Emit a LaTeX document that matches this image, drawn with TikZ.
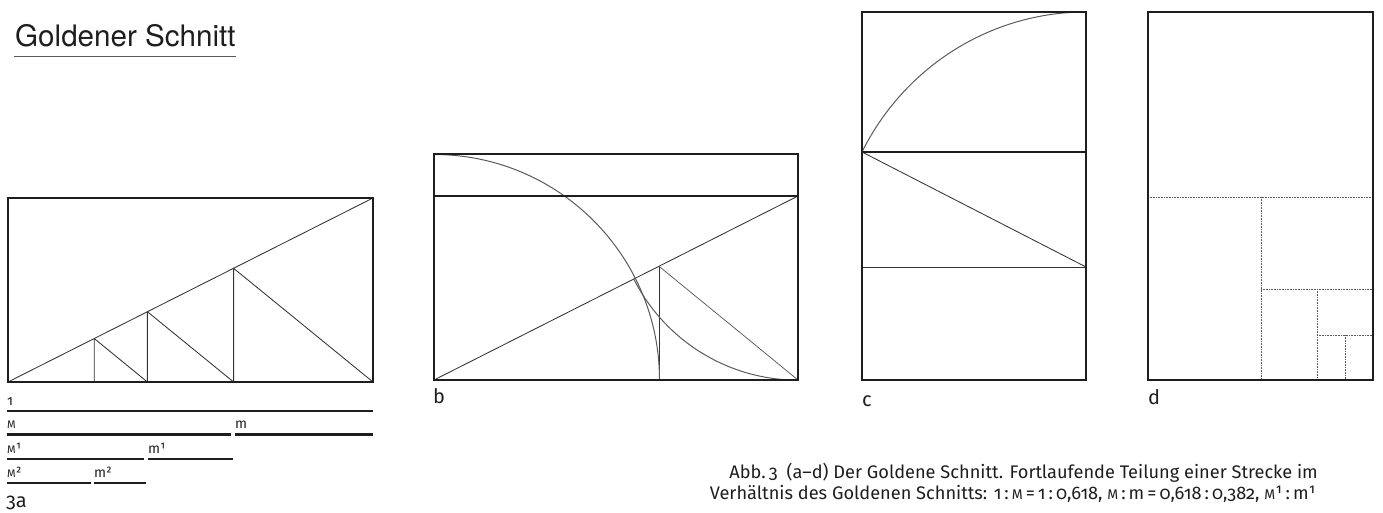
\documentclass[tikz,border=0pt]{standalone}
\usepackage{fontspec}
\setmainfont{Fira Sans}[Numbers=OldStyle]
\newfontfamily\titlefont{TeX Gyre Heros}
\definecolor{ink}{HTML}{1E1E1E}
\definecolor{inner}{HTML}{333333}
\definecolor{soft}{HTML}{5A5A5A}
\newcommand\smM[1]{{\fontsize{#1}{#1}\selectfont M}}
\begin{document}
\begin{tikzpicture}[x=1pt,y=-1pt,line join=miter,
  frame/.style={draw=ink,line width=2pt},
  midline/.style={draw=ink,line width=1.5pt},
  thinline/.style={draw=inner,line width=0.85pt},
  softline/.style={draw=soft,line width=0.75pt},
  arcline/.style={draw=soft,line width=1pt},
  dotline/.style={draw=soft,line width=0.7pt,dash pattern=on 0.7pt off 0.9pt},
  seg/.style={draw=ink,line width=2.9pt},
  lbl/.style={inner sep=0pt,anchor=base west,text=ink,font=\fontsize{14}{14}\selectfont},
  figlabel/.style={inner sep=0pt,anchor=base west,text=ink,font=\fontsize{20}{20}\selectfont},
  captext/.style={inner sep=0pt,anchor=base east,text=ink,font=\fontsize{18.2}{18.2}\selectfont}]
\useasboundingbox (0,0) rectangle (1383,513);
% title
\node[inner sep=0pt,anchor=base west,text=ink,font=\titlefont\fontsize{29.6}{29.6}\selectfont] (title) at (15,47) {Goldener Schnitt};
\coordinate (ul1) at (14,57);
\coordinate (ul2) at (236,57);
\draw[soft,line width=1pt] (ul1) -- (ul2);
% ---------- a ----------
\coordinate (aBL) at (8,382);
\coordinate (aBR) at (373,382);
\coordinate (aTR) at (373,198);
\coordinate (aTL) at (8,198);
\coordinate (aP1) at (233.6,268.3);
\coordinate (aP1b) at (233.6,382);
\coordinate (aP2) at (147.4,311.7);
\coordinate (aP2b) at (147.4,382);
\coordinate (aP3) at (94.2,338.5);
\coordinate (aP3b) at (94.2,382);
\draw[thinline] (aBL) -- (aTR);
\draw[thinline] (aP1) -- (aP1b) (aP1) -- (aBR);
\draw[thinline] (aP2) -- (aP2b) (aP2) -- (aP1b);
\draw[thinline] (aP3) -- (aP3b) (aP3) -- (aP2b);
\draw[frame] (aTL) rectangle (aBR);
% segments
\node[lbl] (l1) at (7,405) {1};
\coordinate (s1a) at (7,411); \coordinate (s1b) at (373,411);
\draw[seg] (s1a) -- (s1b);
\node[lbl] (lM) at (7,428.5) {\smM{11}};
\node[lbl] (lm) at (235,428.5) {m};
\coordinate (s2a) at (7,434.5); \coordinate (s2b) at (231,434.5);
\coordinate (s2c) at (235,434.5); \coordinate (s2d) at (373,434.5);
\draw[seg] (s2a) -- (s2b) (s2c) -- (s2d);
\node[lbl] (lM1) at (7,453) {\smM{11}¹};
\node[lbl] (lm1) at (148,453) {m¹};
\coordinate (s3a) at (7,459); \coordinate (s3b) at (144,459);
\coordinate (s3c) at (148,459); \coordinate (s3d) at (233,459);
\draw[seg] (s3a) -- (s3b) (s3c) -- (s3d);
\node[lbl] (lM2) at (7,477) {\smM{11}²};
\node[lbl] (lm2) at (94,477) {m²};
\coordinate (s4a) at (7,483); \coordinate (s4b) at (91,483);
\coordinate (s4c) at (94,483); \coordinate (s4d) at (146,483);
\draw[seg] (s4a) -- (s4b) (s4c) -- (s4d);
\node[figlabel] (la) at (6,507) {3a};
% ---------- b ----------
\coordinate (bTL) at (434,154);
\coordinate (bBR) at (798,380);
\coordinate (bBL) at (434,380);
\coordinate (bML) at (434,196);
\coordinate (bMR) at (798,196);
\coordinate (bP) at (659,266.3);
\coordinate (bPb) at (659,380);
\coordinate (bArcA) at (434,154.5);
\coordinate (bArcB) at (633.8,279.1);
\draw[thinline] (bBL) -- (bMR);
\draw[thinline] (bP) -- (bPb);
\draw[softline] (bP) -- (bBR);
\draw[arcline] (bArcA) arc[start angle=-90,end angle=0,radius=225.5];
\draw[arcline] (bArcB) arc[start angle=153.2,end angle=90,radius=184];
\draw[midline] (bML) -- (bMR);
\draw[frame] (bTL) rectangle (bBR);
\node[figlabel] (lb) at (433,403) {b};
% ---------- c ----------
\coordinate (cTL) at (862,12);
\coordinate (cBR) at (1086,380);
\coordinate (cH1L) at (862,152);
\coordinate (cH1R) at (1086,152);
\coordinate (cH2L) at (862,267);
\coordinate (cH2R) at (1086,267);
\draw[thinline] (cH1L) -- (cH2R);
\draw[arcline] (cH1L) arc[start angle=206.8,end angle=270,x radius=251,y radius=255];
\draw[midline] (cH1L) -- (cH1R);
\draw[thinline] (cH2L) -- (cH2R);
\draw[frame] (cTL) rectangle (cBR);
\node[figlabel] (lc) at (862,406) {c};
% ---------- d ----------
\coordinate (dTL) at (1148,12);
\coordinate (dBR) at (1373,380);
\draw[dotline] (1148,197) -- (1373,197);
\draw[dotline] (1261,197) -- (1261,380);
\draw[dotline] (1261,289) -- (1373,289);
\draw[dotline] (1317,289) -- (1317,380);
\draw[dotline] (1317,335) -- (1373,335);
\draw[dotline] (1345,335) -- (1345,380);
\draw[frame] (dTL) rectangle (dBR);
\node[figlabel] (ld) at (1148,404) {d};
% ---------- caption ----------
\node[captext] (cap1) at (1318,478) {Abb.\,3\hspace{0.5em}(a–d) Der Goldene Schnitt. Fortlaufende Teilung einer Strecke im};
\node[captext] (cap2) at (1316,499.5) {Verhältnis des Goldenen Schnitts: 1\,:\,\smM{14}\,=\,1\,:\,0,618, \smM{14}\,:\,m\,=\,0,618\,:\,0,382, \smM{14}¹\,:\,m¹};
\end{tikzpicture}
\end{document}
